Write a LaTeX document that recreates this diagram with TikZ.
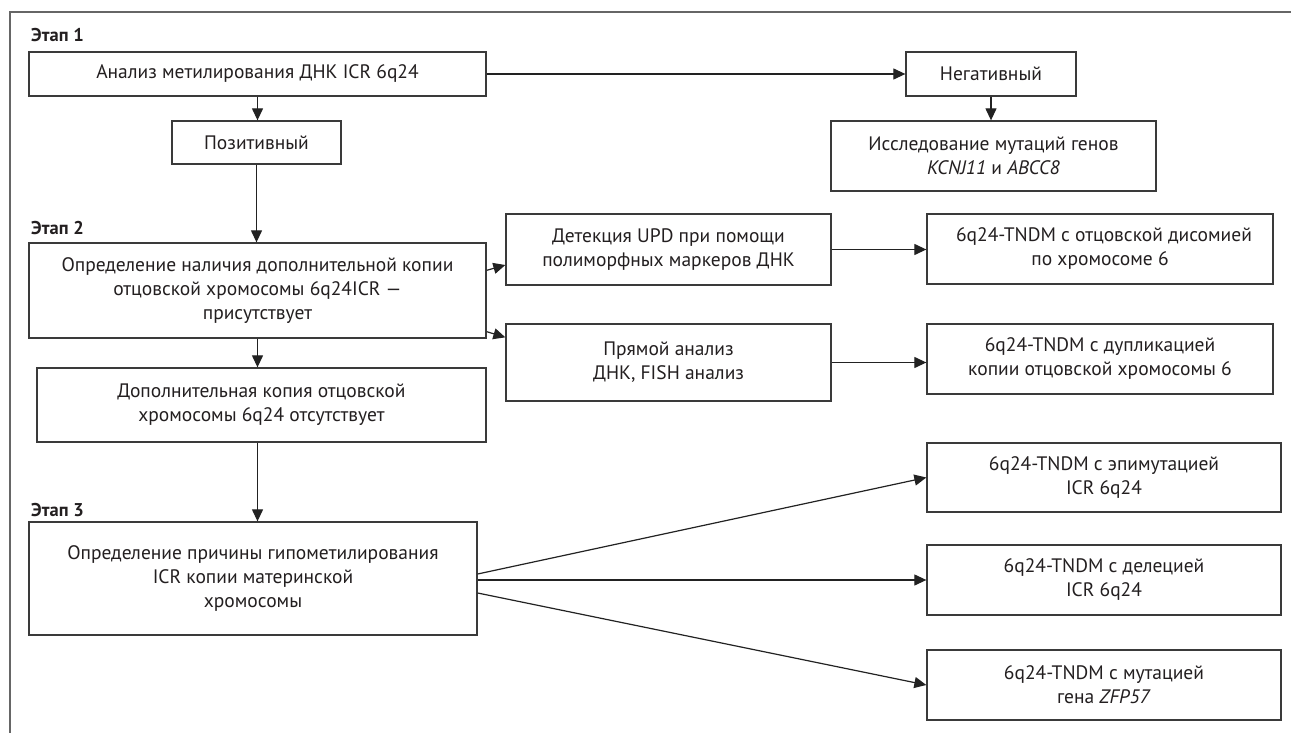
\documentclass[tikz,border=0pt]{standalone}
\usepackage{fontspec}
\setmainfont{PT Sans}
\usetikzlibrary{arrows.meta,calc}
\definecolor{boxc}{HTML}{3A3A3A}
\definecolor{linec}{HTML}{222222}
\definecolor{framec}{HTML}{666666}
\definecolor{txt}{HTML}{231F20}
\begin{document}
\begin{tikzpicture}[x=1pt,y=-1pt,
  box/.style={draw=boxc, line width=1.3pt, fill=white, align=center, inner sep=0pt, text=txt, font=\fontsize{19.5}{24}\selectfont},
  arr/.style={draw=linec, line width=1.2pt, -{Triangle[length=12pt,width=11pt]}},
  stage/.style={font=\bfseries\fontsize{18.5}{20}\selectfont, anchor=base west, inner sep=0pt, text=txt}]
\useasboundingbox (0,0) rectangle (1291,733);
\fill[white] (0,0) rectangle (1291,733);
\draw[framec, line width=2pt] (1291,12) -- (10,12) -- (10,733);

\node[stage] (s1) at (31,42) {Этап 1};
\node[stage] (s2) at (31,234) {Этап 2};
\node[stage] (s3) at (31,516) {Этап 3};

\node[box, minimum width=457pt, minimum height=44pt] (A) at (257.5,74) {Анализ метилирования ДНК ICR 6q24};
\node[box, minimum width=169pt, minimum height=43pt] (P) at (256.5,142.5) {Позитивный};
\node[box, minimum width=170pt, minimum height=44pt] (N) at (991,74) {Негативный};
\node[box, minimum width=325pt, minimum height=70pt] (R) at (993.5,156) {Исследование мутаций генов\\\textit{KCNJ11} и \textit{ABCC8}};
\node[box, minimum width=457pt, minimum height=95pt] (B) at (257.5,290.5) {Определение наличия дополнительной копии\\отцовской хромосомы 6q24ICR —\\присутствует};
\node[box, minimum width=325pt, minimum height=71pt] (G1) at (668.5,249.5) {Детекция UPD при помощи\\полиморфных маркеров ДНК};
\node[box, minimum width=325pt, minimum height=77pt] (G2) at (668.5,362.5) {Прямой анализ\\ДНК, FISH анализ};
\node[box, minimum width=346pt, minimum height=70pt] (F1) at (1100,249) {\hspace*{8pt}6q24-TNDM с отцовской дисомией\\по хромосоме 6};
\node[box, minimum width=346pt, minimum height=70pt] (F2) at (1100,359) {6q24-TNDM с дупликацией\\копии отцовской хромосомы 6};
\node[box, minimum width=449pt, minimum height=74pt] (C) at (261.5,405) {Дополнительная копия отцовской\\хромосомы 6q24 отсутствует};
\node[box, minimum width=448pt, minimum height=113pt] (D) at (253,578.5) {Определение причины гипометилирования\\ICR копии материнской\\хромосомы};
\node[box, minimum width=354pt, minimum height=69pt] (E1) at (1104,477.5) {6q24-TNDM с эпимутацией\\ICR 6q24};
\node[box, minimum width=354pt, minimum height=70pt] (E2) at (1104,580) {6q24-TNDM с делецией\\ICR 6q24};
\node[box, minimum width=354pt, minimum height=70pt] (E3) at (1104,685) {6q24-TNDM с мутацией\\гена \textit{ZFP57}};

\draw[arr] (A.east) -- (N.west);
\draw[arr] (A.south) -- (A.south |- P.north);
\draw[arr] (N.south) -- (N.south |- R.north);
\draw[arr] (P.south) -- (P.south |- B.north);
\draw[arr] ([yshift=-28pt]B.north east) -- ([yshift=-15.5pt]G1.west);
\draw[arr] ([yshift=7pt]B.south east) -- ([yshift=-14pt]G2.north west);
\draw[arr] (G1.east) -- (G1.east -| F1.west);
\draw[arr] (G2.east) -- (G2.east -| F2.west);
\draw[arr] (B.south) -- (B.south |- C.north);
\draw[arr] (C.south -| B.south) -- (D.north -| B.south);
\draw[arr] ([yshift=4.5pt]D.east) -- (E1.west);
\draw[arr] (D.east |- E2.west) -- (E2.west);
\draw[arr] ([yshift=-14.5pt]D.east) -- (E3.west);
\end{tikzpicture}
\end{document}
